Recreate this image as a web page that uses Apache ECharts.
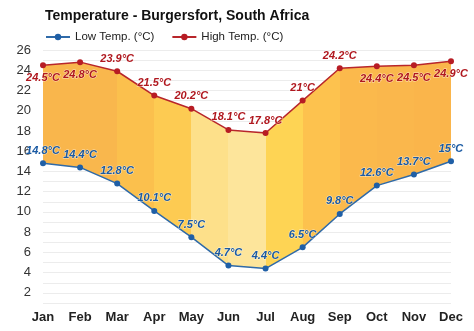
<!DOCTYPE html>
<html>
<head>
    <meta charset="UTF-8"/>
    <title>Temperature - Burgersfort</title>
    <script src="https://cdn.jsdelivr.net/npm/echarts@6/dist/echarts.min.js"></script>
    <style>
        html, body { margin: 0; padding: 0; background: #fff; }
        #chart { width: 474px; height: 331px; }
    </style>
</head>
<body>
<div id="chart"></div>
<script>
    var months = ['Jan', 'Feb', 'Mar', 'Apr', 'May', 'Jun', 'Jul', 'Aug', 'Sep', 'Oct', 'Nov', 'Dec'];
    var lowTemp = [14.8, 14.4, 12.8, 10.1, 7.5, 4.7, 4.4, 6.5, 9.8, 12.6, 13.7, 15];
    var highTemp = [24.5, 24.8, 23.9, 21.5, 20.2, 18.1, 17.8, 21, 24.2, 24.4, 24.5, 24.9];
    // where the high label sits: below for the flat hot months, above otherwise
    var highLabelPos = ['bottom', 'bottom', 'top', 'top', 'top', 'top', 'top', 'top', 'top', 'bottom', 'bottom', 'bottom'];
    // band colour between month i and i+1
    var bandColors = ['#f9b64c', '#f9b74d', '#fbc04d', '#fdcb52', '#fde08a', '#fde59b', '#fed454', '#fdc24e', '#fbb94c', '#fab74c', '#fab54b'];

    var diff = highTemp.map(function (h, i) { return +(h - lowTemp[i]).toFixed(1); });

    var stops = [];
    var n = months.length - 1;
    for (var i = 0; i < n; i++) {
        stops.push({offset: i / n, color: bandColors[i]});
        stops.push({offset: (i + 1) / n, color: bandColors[i]});
    }

    var labelFont = {
        fontFamily: 'Arial, "Liberation Sans", sans-serif',
        fontSize: 11,
        fontWeight: 'bold',
        fontStyle: 'italic',
        textBorderColor: 'rgba(255,255,255,0.6)',
        textBorderWidth: 1
    };

    var chart = echarts.init(document.getElementById('chart'));
    chart.setOption({
        animation: false,
        textStyle: {fontFamily: 'Arial, "Liberation Sans", sans-serif'},
        title: {
            text: 'Temperature - Burgersfort, South Africa',
            left: 40, top: 4,
            textStyle: {fontSize: 14, fontWeight: 'bold', color: '#111'}
        },
        legend: {
            left: 40, top: 26,
            itemWidth: 24, itemHeight: 8, itemGap: 17,
            textStyle: {fontSize: 11.5, color: '#222'},
            data: ['Low Temp. (°C)', 'High Temp. (°C)']
        },
        grid: {left: 43, right: 23, top: 50, bottom: 28},
        xAxis: {
            type: 'category',
            data: months,
            boundaryGap: false,
            axisLine: {show: false},
            axisTick: {show: false},
            axisLabel: {color: '#222', fontWeight: 'bold', fontSize: 13, margin: 8}
        },
        yAxis: {
            type: 'value',
            min: 1, max: 26, interval: 1,
            axisLine: {show: false},
            axisTick: {show: false},
            axisLabel: {
                color: '#333', fontSize: 13, margin: 12,
                formatter: function (v) { return v % 2 === 0 ? v : ''; }
            },
            splitLine: {lineStyle: {color: '#ececec', width: 1}}
        },
        series: [
            {
                name: 'base', type: 'line', stack: 'band',
                data: lowTemp, symbol: 'none', silent: true,
                lineStyle: {opacity: 0}
            },
            {
                name: 'range', type: 'line', stack: 'band',
                data: diff, symbol: 'none', silent: true,
                lineStyle: {opacity: 0},
                areaStyle: {
                    opacity: 1,
                    color: new echarts.graphic.LinearGradient(0, 0, 1, 0, stops)
                }
            },
            {
                name: 'Low Temp. (°C)', type: 'line',
                data: lowTemp,
                color: '#1f5fa6',
                symbol: 'circle', symbolSize: 6,
                lineStyle: {color: '#2f6aa8', width: 1.5},
                label: Object.assign({
                    show: true, position: 'top', distance: 4, color: '#1a5aa3',
                    formatter: '{c}°C'
                }, labelFont)
            },
            {
                name: 'High Temp. (°C)', type: 'line',
                data: highTemp.map(function (v, i) {
                    return {value: v, label: {position: highLabelPos[i]}};
                }),
                color: '#b71c24',
                symbol: 'circle', symbolSize: 6,
                lineStyle: {color: '#b8262b', width: 1.5},
                label: Object.assign({
                    show: true, distance: 4, color: '#b0181f',
                    formatter: '{c}°C'
                }, labelFont)
            }
        ]
    });
</script>
</body>
</html>
